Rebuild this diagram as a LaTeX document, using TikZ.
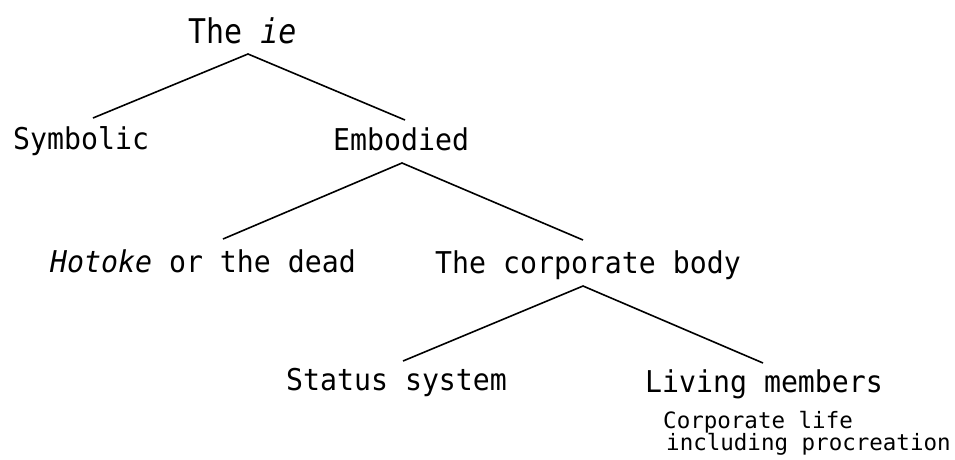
\documentclass[tikz,border=0pt]{standalone}
\usepackage{fontspec}
\newfontfamily\gfont[FakeStretch=0.94]{DejaVu Sans Mono}
\newfontfamily\tfont[FakeStretch=0.88]{DejaVu Sans Mono}
\newfontfamily\sfont[FakeStretch=1.0]{DejaVu Sans Mono}
\begin{document}
\begin{tikzpicture}[x=1pt,y=-1pt,
  lbl/.style={anchor=base west,inner sep=0pt,font=\gfont\fontsize{30}{34}\selectfont},
  ttl/.style={anchor=base west,inner sep=0pt,font=\tfont\fontsize{34}{38}\selectfont},
  sml/.style={anchor=base west,inner sep=0pt,font=\sfont\fontsize{22.5}{26}\selectfont},
  edge/.style={line width=1.6pt,black}]
\useasboundingbox (0,0) rectangle (955,459);
% texts
\node[ttl] (ie) at (188,43) {The \textit{ie}};
\node[lbl] (sym) at (13,149) {Symbolic};
\node[lbl] (emb) at (333,150) {Embodied};
\node[lbl] (hot) at (50,272) {\textit{Hotoke} or the dead};
\node[lbl] (corp) at (435,273) {The corporate body};
\node[lbl] (stat) at (286,390) {Status system};
\node[lbl] (liv) at (645,392) {Living members};
\node[sml] (cl) at (663,428) {Corporate life};
\node[sml] (inc) at (666,450) {including procreation};
% connector points
\coordinate (ieB) at (248,54);
\coordinate (symT) at (93,118);
\coordinate (embT) at (405,120);
\coordinate (embB) at (402,163);
\coordinate (hotT) at (223,239);
\coordinate (corpT) at (583,240);
\coordinate (corpB) at (583,286);
\coordinate (statT) at (403,361);
\coordinate (livT) at (763,363);
\draw[edge] (symT) -- (ieB) -- (embT);
\draw[edge] (hotT) -- (embB) -- (corpT);
\draw[edge] (statT) -- (corpB) -- (livT);
\end{tikzpicture}
\end{document}
